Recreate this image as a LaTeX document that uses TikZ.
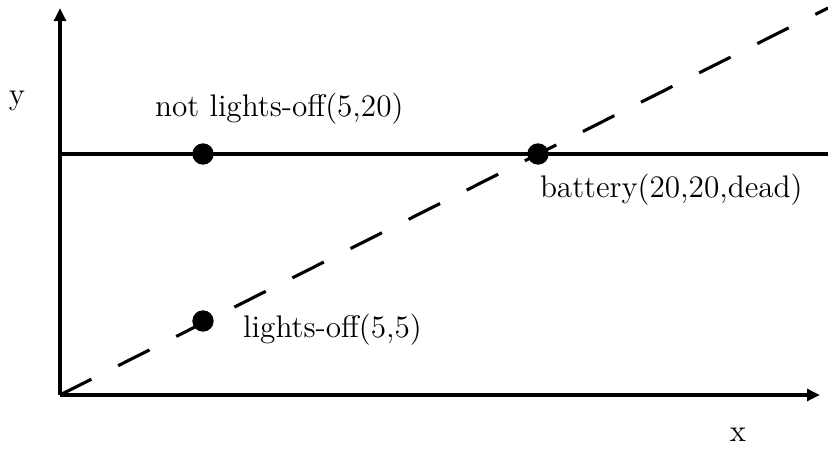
\documentclass[tikz,border=0pt]{standalone}
\usepackage{tikz}
\usetikzlibrary{arrows.meta,positioning}

\begin{document}
\begin{tikzpicture}[
    x=0.0135cm, y=-0.0135cm,
    axis/.style={line width=1.5pt, -{Triangle[length=5pt,width=4.5pt]}},
    level/.style={line width=1.5pt},
    diag/.style={line width=1.2pt, dash pattern=on 13.5pt off 11.5pt},
    pt/.style={circle, fill=black, inner sep=0pt, minimum size=8.2pt},
    lbl/.style={font=\large, inner sep=1pt}
  ]
    \useasboundingbox (0,0) rectangle (828,451);

    % === Axes ===
    \coordinate (O) at (60,395);
    \coordinate (ytop) at (60,8);
    \coordinate (xend) at (820,395);
    \draw[axis] (O) -- (ytop);
    \draw[axis] (O) -- (xend);
    \node[lbl] (ylab) at (17,101) {y};
    \node[lbl] (xlab) at (738,435) {x};

    % === Lines ===
    \coordinate (hl) at (60,154);
    \coordinate (hr) at (828,154);
    \draw[level] (hl) -- (hr);
    \coordinate (dend) at (828,8);
    \begin{scope}
      \clip (0,0) rectangle (828,451);
      \draw[diag] (O) -- (dend);
    \end{scope}

    % === Points ===
    \node[pt] (notoff) at (203,154) {};
    \node[pt] (bat) at (538,154) {};
    \node[pt] (off) at (203,321) {};

    \node[lbl, above=0.21cm of notoff, xshift=1.03cm] (notofflab) {not lights-off(5,20)};
    \node[lbl, below=0.08cm of bat, xshift=1.8cm] (batlab) {battery(20,20,dead)};
    \node[lbl, right=0.35cm of off, yshift=-0.12cm] (offlab) {lights-off(5,5)};
\end{tikzpicture}
\end{document}
